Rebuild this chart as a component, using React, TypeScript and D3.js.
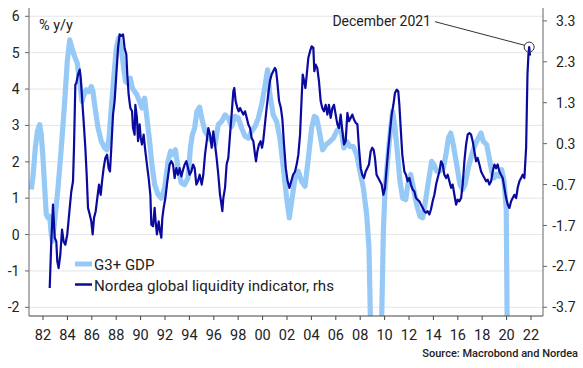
import React from 'react';
import * as d3 from 'd3';

// G3+ GDP, % y/y (left axis) — [decimal year, value]
const gdpSeries: [number, number][] = [
  [1981.04, 1.24], [1981.18, 1.6], [1981.37, 2.38], [1981.54, 2.84], [1981.73, 3.02], [1981.86, 2.74],
  [1982.0, 2.1], [1982.14, 1.28], [1982.27, 0.55], [1982.41, 0.46], [1982.55, 0.5], [1982.68, 0.0],
  [1982.77, -0.18], [1982.96, 0.37], [1983.23, 1.28], [1983.5, 2.38], [1983.78, 3.66], [1983.99, 4.76],
  [1984.19, 5.35], [1984.38, 5.12], [1984.6, 4.89], [1984.81, 4.71], [1985.0, 4.2], [1985.2, 3.66],
  [1985.36, 3.84], [1985.55, 3.98], [1985.77, 3.93], [1985.96, 4.07], [1986.1, 3.93], [1986.23, 3.57],
  [1986.51, 2.93], [1986.78, 2.56], [1987.05, 2.38], [1987.25, 2.33], [1987.41, 2.65], [1987.6, 3.48],
  [1987.82, 4.39], [1988.01, 5.12], [1988.2, 5.4], [1988.42, 5.12], [1988.61, 4.57], [1988.78, 4.2],
  [1988.97, 4.16], [1989.16, 4.3], [1989.32, 4.03], [1989.51, 3.93], [1989.7, 3.84], [1989.92, 3.66],
  [1990.11, 3.48], [1990.33, 3.75], [1990.52, 3.2], [1990.74, 2.56], [1990.93, 1.92], [1991.15, 1.37],
  [1991.43, 1.1], [1991.7, 1.0], [1991.97, 1.28], [1992.25, 2.01], [1992.46, 2.29], [1992.66, 2.2],
  [1992.85, 2.33], [1993.07, 1.83], [1993.34, 1.42], [1993.61, 1.37], [1993.89, 1.56], [1994.08, 2.38],
  [1994.24, 2.74], [1994.43, 2.93], [1994.62, 3.39], [1994.84, 3.5], [1995.01, 3.2], [1995.28, 2.84],
  [1995.55, 2.7], [1995.83, 2.56], [1996.1, 2.47], [1996.37, 3.02], [1996.64, 3.11], [1996.92, 3.29],
  [1997.19, 3.2], [1997.46, 2.97], [1997.74, 3.25], [1998.01, 3.2], [1998.28, 2.93], [1998.56, 2.7],
  [1998.83, 2.65], [1999.1, 2.84], [1999.38, 2.97], [1999.65, 3.2], [1999.92, 3.57], [2000.19, 4.07],
  [2000.41, 4.53], [2000.6, 3.84], [2000.87, 3.29], [2001.15, 3.11], [2001.42, 2.65], [2001.7, 1.83],
  [2001.97, 1.01], [2002.19, 0.46], [2002.38, 0.91], [2002.66, 1.56], [2002.93, 1.74], [2003.2, 1.46],
  [2003.48, 1.33], [2003.75, 2.1], [2004.02, 2.93], [2004.24, 3.25], [2004.43, 3.2], [2004.65, 2.84],
  [2004.92, 2.33], [2005.2, 2.47], [2005.52, 2.56], [2005.8, 2.65], [2006.07, 2.84], [2006.29, 2.93],
  [2006.48, 2.79], [2006.67, 2.38], [2006.89, 2.56], [2007.16, 2.42], [2007.44, 2.42], [2007.71, 2.2],
  [2007.98, 1.74], [2008.26, 1.28], [2008.53, 0.55], [2008.72, -0.37], [2008.95, -4.2], [2009.2, -5.6],
  [2009.45, -4.6], [2009.76, -2.3], [2009.9, 0.1], [2010.03, 1.19], [2010.31, 2.29], [2010.5, 2.93],
  [2010.66, 3.39], [2010.85, 2.93], [2011.04, 2.29], [2011.26, 1.46], [2011.48, 1.0], [2011.73, 0.96],
  [2011.95, 1.46], [2012.14, 1.65], [2012.36, 1.28], [2012.63, 0.82], [2012.9, 0.5], [2013.12, 0.46],
  [2013.31, 0.82], [2013.59, 1.46], [2013.86, 2.01], [2014.05, 1.92], [2014.27, 1.74], [2014.54, 1.74],
  [2014.81, 1.83], [2015.03, 2.2], [2015.23, 2.65], [2015.42, 2.79], [2015.63, 2.47], [2015.91, 1.92],
  [2016.18, 1.37], [2016.4, 1.24], [2016.59, 1.37], [2016.86, 1.83], [2017.14, 2.2], [2017.41, 2.47],
  [2017.68, 2.65], [2017.9, 2.79], [2018.09, 2.56], [2018.37, 2.47], [2018.58, 2.1], [2018.78, 1.74],
  [2018.97, 1.56], [2019.18, 1.65], [2019.4, 1.6], [2019.6, 1.78], [2019.79, 1.46], [2019.97, 0.73],
  [2020.22, -9.8],
];

// Nordea global liquidity indicator (right axis) — [decimal year, value]
const liquiditySeries: [number, number][] = [
  [1982.55, -3.23], [1982.68, -2.09], [1982.82, -1.19], [1982.96, -2.0], [1983.09, -2.09], [1983.17, -2.57],
  [1983.28, -2.74], [1983.42, -2.41], [1983.56, -1.8], [1983.69, -2.09], [1983.83, -2.17], [1983.99, -1.92],
  [1984.19, -1.27], [1984.32, -0.87], [1984.46, -0.62], [1984.54, 0.2], [1984.65, 1.74], [1984.73, 1.78],
  [1984.87, 1.99], [1985.01, 2.11], [1985.09, 1.91], [1985.2, 1.42], [1985.33, 0.85], [1985.47, 0.2],
  [1985.58, -0.46], [1985.69, -1.27], [1985.83, -1.43], [1985.96, -1.6], [1986.07, -1.92], [1986.18, -1.52],
  [1986.32, -1.35], [1986.45, -1.03], [1986.59, -0.7], [1986.73, -0.95], [1986.84, -0.62], [1986.97, -0.3],
  [1987.11, -0.05], [1987.25, 0.03], [1987.38, -0.3], [1987.49, -0.38], [1987.6, 0.2], [1987.74, 1.01],
  [1987.87, 1.34], [1988.01, 1.99], [1988.15, 2.64], [1988.28, 2.97], [1988.42, 2.93], [1988.56, 2.97],
  [1988.69, 2.64], [1988.83, 2.48], [1988.91, 1.99], [1989.02, 1.5], [1989.16, 1.17], [1989.3, 1.09],
  [1989.38, 0.68], [1989.51, 0.52], [1989.57, 1.25], [1989.7, 0.93], [1989.79, 0.36], [1989.92, 0.77],
  [1990.01, 0.44], [1990.11, 0.28], [1990.25, 0.52], [1990.39, 0.11], [1990.52, -0.21], [1990.66, -0.54],
  [1990.8, -0.95], [1990.88, -1.68], [1991.02, -1.72], [1991.15, -1.27], [1991.23, -1.6], [1991.34, -1.92],
  [1991.48, -1.6], [1991.59, -1.84], [1991.7, -2.0], [1991.78, -1.52], [1991.89, -1.27], [1992.03, -1.03],
  [1992.19, -0.62], [1992.38, -0.21], [1992.52, -0.13], [1992.66, -0.21], [1992.79, -0.54], [1992.93, -0.3],
  [1993.07, -0.46], [1993.2, -0.3], [1993.34, -0.5], [1993.48, -0.34], [1993.61, -0.21], [1993.75, -0.13],
  [1993.89, -0.3], [1994.02, -0.46], [1994.16, -0.38], [1994.3, -0.21], [1994.43, -0.3], [1994.57, -0.7],
  [1994.7, -0.62], [1994.84, -0.46], [1995.01, -0.7], [1995.14, -0.46], [1995.28, 0.03], [1995.42, 0.36],
  [1995.55, 0.68], [1995.69, 0.52], [1995.83, 0.2], [1995.96, 0.6], [1996.1, 0.28], [1996.23, -0.05],
  [1996.37, -0.46], [1996.51, -0.95], [1996.59, -1.11], [1996.7, -1.35], [1996.78, -1.03], [1996.92, -0.78],
  [1997.05, -0.21], [1997.19, -0.05], [1997.33, 0.52], [1997.46, 1.01], [1997.6, 1.58], [1997.68, 1.66],
  [1997.79, 1.34], [1997.93, 1.17], [1998.04, 1.09], [1998.15, 1.17], [1998.28, 1.09], [1998.42, 1.01],
  [1998.56, 1.09], [1998.7, 0.93], [1998.83, 0.77], [1998.97, 0.68], [1999.1, 0.44], [1999.24, 0.36],
  [1999.38, 0.03], [1999.46, -0.13], [1999.57, 0.11], [1999.7, 0.28], [1999.84, 0.36], [1999.95, 0.2],
  [2000.05, 0.36], [2000.19, 0.77], [2000.33, 1.17], [2000.46, 1.5], [2000.6, 1.83], [2000.74, 1.99],
  [2000.87, 2.07], [2001.01, 2.15], [2001.1, 2.1], [2001.2, 1.83], [2001.35, 1.34], [2001.5, 1.17],
  [2001.62, 0.9], [2001.75, 0.3], [2001.9, -0.3], [2002.05, -0.62], [2002.2, -0.78], [2002.35, -0.62],
  [2002.5, -0.46], [2002.66, -0.38], [2002.8, -0.2], [2002.93, 0.03], [2003.07, 0.52], [2003.2, 1.42],
  [2003.29, 1.99], [2003.4, 1.83], [2003.51, 1.66], [2003.62, 1.99], [2003.75, 2.4], [2003.89, 2.56],
  [2004.02, 2.68], [2004.16, 2.64], [2004.24, 2.07], [2004.35, 2.23], [2004.48, 2.15], [2004.62, 1.83],
  [2004.76, 1.34], [2004.89, 1.17], [2005.03, 1.09], [2005.17, 1.25], [2005.31, 1.01], [2005.44, 1.25],
  [2005.58, 0.93], [2005.72, 1.17], [2005.85, 1.25], [2005.99, 1.01], [2006.13, 0.77], [2006.26, 0.68],
  [2006.4, 1.01], [2006.54, 0.6], [2006.67, 0.28], [2006.81, 0.36], [2006.95, 1.05], [2007.08, 0.85],
  [2007.22, 0.93], [2007.36, 1.01], [2007.49, 0.89], [2007.63, 0.81], [2007.77, 0.77], [2007.9, 0.2],
  [2008.04, -0.3], [2008.17, -0.46], [2008.31, -0.54], [2008.45, -0.38], [2008.58, -0.3], [2008.72, -0.21],
  [2008.86, 0.11], [2008.99, 0.2], [2009.1, 0.15], [2009.21, -0.05], [2009.34, -0.46], [2009.48, -0.54],
  [2009.62, -0.62], [2009.76, -0.7], [2009.9, -0.95], [2010.03, -0.8], [2010.17, -0.29], [2010.31, 0.2],
  [2010.44, 0.6], [2010.58, 1.01], [2010.72, 1.25], [2010.85, 1.54], [2010.99, 1.62], [2011.12, 1.58],
  [2011.21, 1.25], [2011.32, 0.68], [2011.45, 0.03], [2011.62, -0.38], [2011.75, -0.46], [2011.89, -0.62],
  [2012.03, -0.54], [2012.16, -0.7], [2012.3, -0.82], [2012.44, -0.87], [2012.57, -1.03], [2012.71, -1.07],
  [2012.85, -1.11], [2012.98, -1.19], [2013.12, -1.27], [2013.26, -1.35], [2013.39, -1.39], [2013.53, -1.35],
  [2013.67, -1.43], [2013.8, -1.31], [2013.94, -1.11], [2014.08, -0.95], [2014.22, -0.7], [2014.35, -0.54],
  [2014.49, -0.38], [2014.63, -0.13], [2014.76, -0.21], [2014.9, -0.46], [2015.04, -0.54], [2015.17, -0.46],
  [2015.31, -0.62], [2015.45, -0.78], [2015.58, -0.7], [2015.72, -0.95], [2015.86, -1.19], [2015.99, -1.07],
  [2016.13, -1.11], [2016.27, -1.03], [2016.4, -0.7], [2016.54, -0.13], [2016.68, 0.28], [2016.81, 0.52],
  [2016.95, 0.56], [2017.09, 0.52], [2017.22, 0.36], [2017.36, 0.11], [2017.5, -0.13], [2017.63, -0.05],
  [2017.77, -0.21], [2017.91, -0.38], [2018.04, -0.46], [2018.18, -0.54], [2018.32, -0.62], [2018.45, -0.58],
  [2018.59, -0.7], [2018.73, -0.62], [2018.86, -0.38], [2019.0, -0.21], [2019.14, -0.3], [2019.27, -0.21],
  [2019.41, -0.38], [2019.54, -0.46], [2019.68, -0.54], [2019.82, -0.78], [2019.96, -1.03], [2020.09, -1.19],
  [2020.23, -1.27], [2020.37, -1.11], [2020.5, -1.03], [2020.64, -0.95], [2020.78, -1.03], [2020.91, -0.78],
  [2021.05, -0.62], [2021.19, -0.54], [2021.32, -0.46], [2021.46, -0.54], [2021.6, 0.2], [2021.71, 1.99],
  [2021.79, 2.48], [2021.85, 2.66], [2021.92, 2.45],
];

const xTickYears = [1982, 1984, 1986, 1988, 1990, 1992, 1994, 1996, 1998, 2000, 2002, 2004, 2006, 2008, 2010, 2012, 2014, 2016, 2018, 2020, 2022];
const xTickLabels = ['82', '84', '86', '88', '90', '92', '94', '96', '98', '00', '02', '04', '06', '08', '10', '12', '14', '16', '18', '20', '22'];
const leftTicks = [-2, -1, 0, 1, 2, 3, 4, 5, 6];
const rightTicks = [3.3, 2.3, 1.3, 0.3, -0.7, -1.7, -2.7, -3.7];
const legendLabels = ['G3+ GDP', 'Nordea global liquidity indicator, rhs'];
const annotationLabel = 'December 2021';
const annotationYear = 2021.85;

const W = 583;
const H = 368;
const L = 29;
const R = 543;
const T = 8;
const B = 316;

const LIGHT = '#97C9F6';
const DARK = '#0A0A9E';
const FONT = "Roboto, 'Open Sans', 'Noto Sans', sans-serif";

export default function App() {
  const x = d3.scaleLinear().domain([1982, 2022]).range([43, 531]);
  const yL = d3.scaleLinear().domain([-2, 6]).range([307.3, 16.3]);
  const yR = d3.scaleLinear().domain([-3.7, 3.3]).range([307.3, 20.9]);

  const gdpLine = d3.line<[number, number]>().x(d => x(d[0])).y(d => yL(d[1]));
  const liqLine = d3.line<[number, number]>().x(d => x(d[0])).y(d => yR(d[1]));

  const ann = liquiditySeries.find(d => d[0] === annotationYear)!;
  const ax = x(ann[0]);
  const ay = yR(ann[1]);

  return (
    <svg width={W} height={H} style={{ position: 'absolute', left: 0, top: 0, background: '#fff' }} fontFamily={FONT}>
      <defs>
        <clipPath id="plot">
          <rect x={L} y={T} width={R - L} height={B - T} />
        </clipPath>
      </defs>
      <rect x={0} y={0} width={W} height={H} fill="#fff" />
      {leftTicks.map(t => (
        <line key={'g' + t} x1={L} x2={R} y1={yL(t)} y2={yL(t)} stroke="#e6e6e6" strokeWidth={1} />
      ))}
      <g clipPath="url(#plot)">
        <path d={gdpLine(gdpSeries)!} fill="none" stroke={LIGHT} strokeWidth={5.2} strokeLinejoin="round" />
        <path d={liqLine(liquiditySeries)!} fill="none" stroke={DARK} strokeWidth={2.2} strokeLinejoin="round" />
      </g>
      <line x1={L} x2={L} y1={T} y2={B} stroke="#666" strokeWidth={1} />
      <line x1={R} x2={R} y1={T} y2={B} stroke="#666" strokeWidth={1} />
      <line x1={L} x2={R} y1={B} y2={B} stroke="#444" strokeWidth={1} />
      {leftTicks.map(t => (
        <g key={'l' + t}>
          <line x1={L - 4} x2={L} y1={yL(t)} y2={yL(t)} stroke="#666" />
          <text x={19.5} y={yL(t)} dy="0.36em" textAnchor="end" fontSize={14} fill="#222">{t}</text>
        </g>
      ))}
      {rightTicks.map(t => (
        <g key={'r' + t}>
          <line x1={R} x2={R + 4} y1={yR(t)} y2={yR(t)} stroke="#666" />
          <text x={575.5} y={yR(t)} dy="0.36em" textAnchor="end" fontSize={14} fill="#222">{t.toFixed(1)}</text>
        </g>
      ))}
      {xTickYears.map((yr, i) => (
        <g key={'x' + yr}>
          <line x1={x(yr)} x2={x(yr)} y1={B} y2={B + 4} stroke="#444" />
          <text x={x(yr)} y={340} textAnchor="middle" fontSize={14.5} fill="#222">{xTickLabels[i]}</text>
        </g>
      ))}
      <text x={39} y={30} fontSize={14.5} fill="#222">% y/y</text>
      <line x1={75} x2={92} y1={264} y2={264} stroke={LIGHT} strokeWidth={5} />
      <text x={94} y={270} fontSize={15} fill="#222">{legendLabels[0]}</text>
      <line x1={75} x2={92} y1={284.5} y2={284.5} stroke={DARK} strokeWidth={2.5} />
      <text x={94} y={290.5} fontSize={15} fill="#222" textLength={240} lengthAdjust="spacingAndGlyphs">{legendLabels[1]}</text>
      <text x={431} y={26} textAnchor="end" fontSize={14} fill="#222">{annotationLabel}</text>
      <line x1={435} y1={21.7} x2={ax - 4.5} y2={ay - 1.8} stroke="#333" strokeWidth={1} />
      <circle cx={ax} cy={ay} r={5} fill="none" stroke="#333" strokeWidth={1} />
      <text x={578} y={357} textAnchor="end" fontSize={11} fontWeight={500} fill="#222">Source: Macrobond and Nordea</text>
    </svg>
  );
}
